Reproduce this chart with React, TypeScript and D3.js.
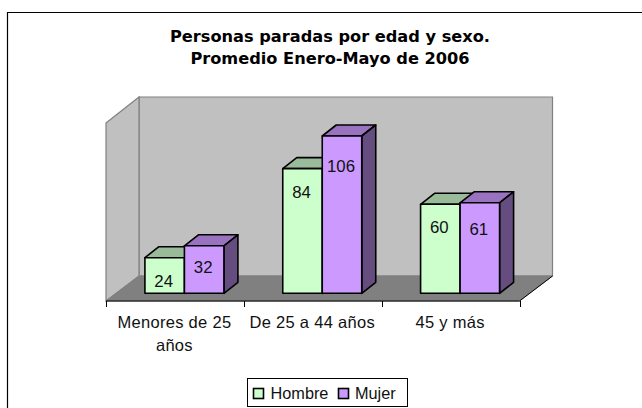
import React from "react";
import * as d3 from "d3";

const categories = ["Menores de 25 años", "De 25 a 44 años", "45 y más"];
const categoryLines = [["Menores de 25", "años"], ["De 25 a 44 años"], ["45 y más"]];
const hombre = [24, 84, 60];
const mujer = [32, 106, 61];
const seriesNames = ["Hombre", "Mujer"];
const titleLines = ["Personas paradas por edad y sexo.", "Promedio Enero-Mayo de 2006"];

const W = 642, H = 408;
const frontLeft = 106, frontRight = 519.5, frontBottom = 301;
const depthX = 33, depthY = 25;
const wallTop = 97;
const barBottom = 293.3;
const barDX = 14, barDY = 11;
const UI = "'Liberation Sans', Arial, sans-serif";

const x0 = d3.scaleBand<string>().domain(categories).range([frontLeft, frontRight]);
const y = d3.scaleLinear().domain([0, 106]).range([barBottom, 136]);
const barW = 39.5;
const series = [
  { name: seriesNames[0], values: hombre, fill: "#ccffcc", top: "#99bb99", side: "#669966", drop: [29, 29.5, 28.7], legendX: 253.5, textX: 270.5 },
  { name: seriesNames[1], values: mujer, fill: "#cc99ff", top: "#9973bf", side: "#664d80", drop: [27.5, 35.7, 32.3], legendX: 338.5, textX: 355 },
];

const pts = (p: number[][]) => p.map((q) => q.join(",")).join(" ");

export default function App() {
  const backLeft = frontLeft + depthX, backRight = frontRight + depthX, backBottom = frontBottom - depthY;
  return (
    <svg width={W} height={H} style={{ position: "absolute", left: 0, top: 0, background: "#fff" }}>
      <path d={`M7.5,${H} V12.5 H${W}`} fill="none" stroke="#000" strokeWidth={1.2} />
      <g fontFamily="'DejaVu Sans', Verdana, sans-serif" fontWeight="bold" fontSize={16.2} textAnchor="middle" fill="#000">
        {titleLines.map((t, i) => (
          <text key={t} x={330} y={42 + i * 22.3}>{t}</text>
        ))}
      </g>
      <polygon points={pts([[backLeft, wallTop], [backRight, wallTop], [backRight, backBottom], [backLeft, backBottom]])} fill="#c0c0c0" stroke="#808080" strokeWidth={1.2} />
      <polygon points={pts([[frontLeft, wallTop + depthY + 1], [backLeft, wallTop], [backLeft, backBottom], [frontLeft, frontBottom]])} fill="#c0c0c0" stroke="#808080" strokeWidth={1.2} />
      <polygon points={pts([[frontLeft, frontBottom], [backLeft, backBottom], [backRight, backBottom], [frontRight, frontBottom]])} fill="#808080" stroke="#808080" />
      <line x1={frontLeft} x2={frontRight} y1={frontBottom} y2={frontBottom} stroke="#000" />
      {[0, 1, 2, 3].map((i) => {
        const tx = Math.round(frontLeft + i * x0.step()) + 0.5;
        return <line key={i} x1={tx} x2={tx} y1={frontBottom} y2={frontBottom + 6} stroke="#000" />;
      })}
      <line x1={frontRight} x2={backRight} y1={frontBottom} y2={backBottom} stroke="#000" />
      {categories.map((c, ci) => {
        const left = (x0(c) as number) + x0.step() / 2 + 9.5 - barW;
        return (
          <g key={c}>
            {series.map((s, si) => {
              const v = s.values[ci];
              const xl = left + si * barW, xr = xl + barW, yt = y(v);
              return (
                <g key={s.name} stroke="#000" strokeWidth={1.6} strokeLinejoin="round">
                  <polygon points={pts([[xl, yt], [xl + barDX, yt - barDY], [xr + barDX, yt - barDY], [xr, yt]])} fill={s.top} />
                  <polygon points={pts([[xr, yt], [xr + barDX, yt - barDY], [xr + barDX, barBottom - barDY], [xr, barBottom]])} fill={s.side} />
                  <rect x={xl} y={yt} width={barW} height={barBottom - yt} fill={s.fill} />
                </g>
              );
            })}
            {series.map((s, si) => {
              const v = s.values[ci];
              const xl = left + si * barW;
              return (
                <text key={s.name} x={xl + barW / 2 - 1} y={y(v) + s.drop[ci]} textAnchor="middle" fontFamily={UI} fontSize={16.8} fill="#111">{v}</text>
              );
            })}
          </g>
        );
      })}
      {categories.map((c, ci) => (
        <g key={c} fontFamily={UI} fontSize={16.5} letterSpacing={0.3} textAnchor="middle" fill="#111">
          {categoryLines[ci].map((l, li) => (
            <text key={l} x={(x0(c) as number) + x0.step() / 2 - 0.5} y={327.5 + li * 23}>{l}</text>
          ))}
        </g>
      ))}
      <rect x={247.5} y={378.5} width={160} height={28} fill="#fff" stroke="#000" />
      {series.map((s) => (
        <g key={s.name}>
          <rect x={s.legendX} y={388.5} width={10} height={10} fill={s.fill} stroke="#000" strokeWidth={1.6} />
          <text x={s.textX} y={399} fontFamily={UI} fontSize={16.3} fill="#111">{s.name}</text>
        </g>
      ))}
    </svg>
  );
}
